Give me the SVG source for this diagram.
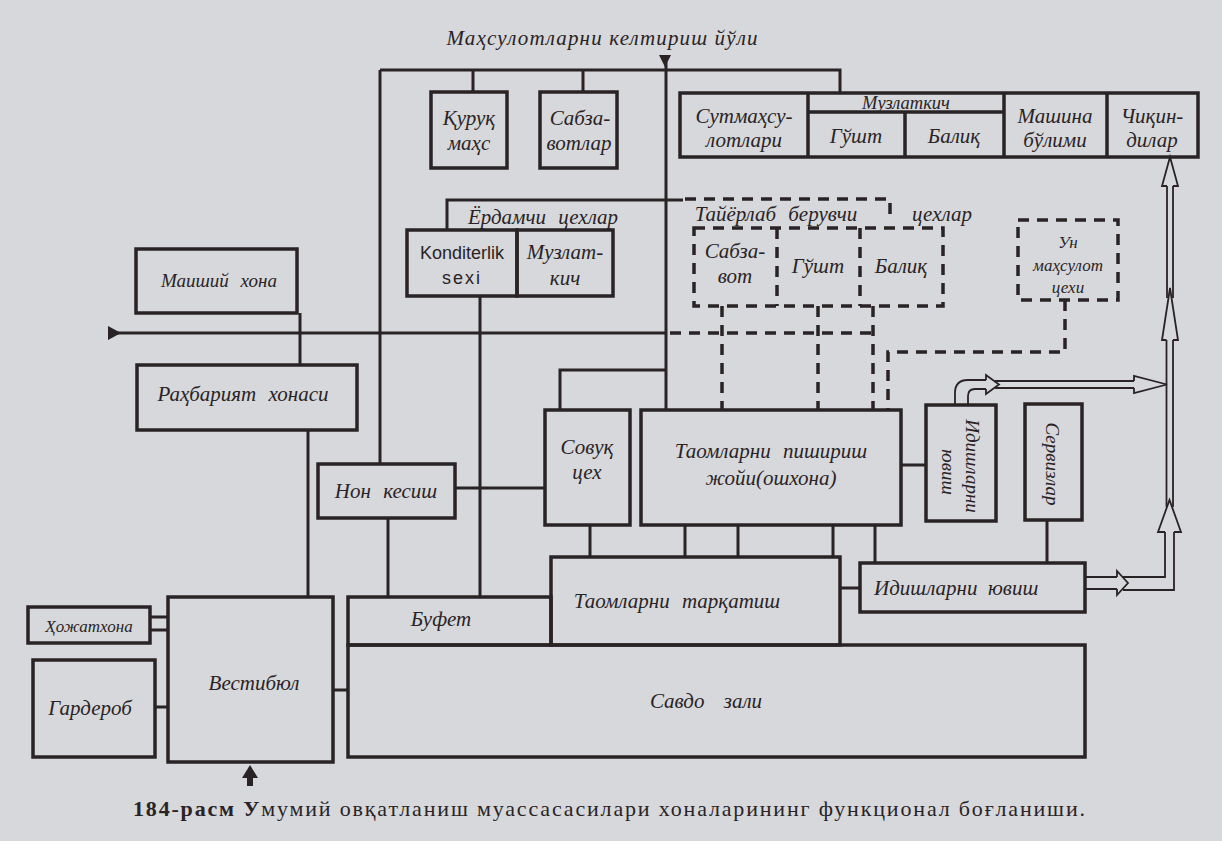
<svg xmlns="http://www.w3.org/2000/svg" width="1222" height="841" viewBox="0 0 1222 841">
<defs>
<style>
.box{fill:none;stroke:#2a2325;stroke-width:3.5}
.ln{fill:none;stroke:#2a2325;stroke-width:3}
.dash{fill:none;stroke:#2a2325;stroke-width:3.5;stroke-dasharray:11 8}
.pipe{fill:none;stroke:#2a2325;stroke-width:1.8}
.t{font-family:"Liberation Serif","DejaVu Serif",serif;font-style:italic;font-size:21px;fill:#2a2325;text-anchor:middle}
.sm{font-size:17px}
.rt{font-size:19px}
.ws{word-spacing:7px}
.sans{font-family:"Liberation Sans","DejaVu Sans",sans-serif;font-style:normal;font-size:18px}
.cap{font-family:"Liberation Serif","DejaVu Serif",serif;font-size:22px;fill:#2a2325}
.fill{fill:#2a2325}
</style>
</defs>
<rect x="0" y="0" width="1222" height="841" fill="#d6d8db"/>

<text class="t" x="602" y="45" textLength="311" lengthAdjust="spacing">Маҳсулотларни келтириш йўли</text>

<g id="connectors">
  <polygon class="fill" points="659,55 671,55 665,67"/>
  <path class="ln" d="M380,70 H840 V93"/>
  <path class="ln" d="M380,70 V464"/>
  <path class="ln" d="M473,70 V92 M583,70 V92"/>
  <path class="ln" d="M666,62 V410"/>
  <path class="ln" d="M666,370 H560 V410"/>
  <path class="ln" d="M447,230 V200 H683"/>
  <polygon class="fill" points="108,326 108,340 121,333"/>
  <path class="ln" d="M110,333 H666"/>
  <path class="ln" d="M300,313 V365"/>
  <path class="ln" d="M308,430 V597"/>
  <path class="ln" d="M480,296 V597"/>
  <path class="ln" d="M455,488 H545"/>
  <path class="ln" d="M388,518 V597"/>
  <path class="ln" d="M590,525 V557"/>
  <path class="ln" d="M685,525 V557 M738,525 V557 M833,525 V557"/>
  <path class="ln" d="M875,525 V563"/>
  <path class="ln" d="M901,465 H926"/>
  <path class="ln" d="M1047,520 V563"/>
  <path class="ln" d="M840,588 H860"/>
  <path class="ln" d="M333,690 H348"/>
  <path class="ln" d="M150,617 H168 M150,630 H168"/>
  <path class="ln" d="M155,707 H168"/>
  <polygon class="fill" points="250,765 242,778 258,778"/>
  <rect class="fill" x="247" y="777" width="6" height="9"/>
  <path class="dash" d="M685,199 H890 V222"/>
  <path class="dash" d="M722,306 V410 M818,306 V410 M873,306 V410"/>
  <path class="dash" d="M670,333 H873"/>
  <path class="dash" d="M1065,300 V352 H888 V410"/>
  <path class="pipe" d="M955,405 V393 Q955,380 968,380 H986"/>
  <path class="pipe" d="M968,405 V396 Q968,389 975,389 H986"/>
  <polyline class="pipe" points="986,380 986,375 999,384.5 986,394 986,389"/>
  <path class="pipe" d="M995,381 H1134 M995,388 H1134"/>
  <polyline class="pipe" points="1134,381 1134,376 1167,384.5 1134,393 1134,388"/>
  <path class="pipe" d="M1085,577 H1117 M1085,589 H1117"/>
  <polyline class="pipe" points="1117,577 1117,571 1128,583 1117,595 1117,589"/>
  <path class="pipe" d="M1123,577 H1165 V532 M1123,590 H1174 V532"/>
  <polyline class="pipe" points="1165,532 1158,532 1169.5,500 1181,532 1174,532"/>
  <path class="pipe" d="M1166.5,507 V340 M1173,507 V340"/>
  <polyline class="pipe" points="1166.5,340 1162,340 1170,288 1178,340 1173,340"/>
  <path class="pipe" d="M1167,298 V186 M1173,298 V186"/>
  <polyline class="pipe" points="1167,186 1162,186 1170,157 1178,186 1173,186"/>
</g>

<g id="quruq">
  <rect class="box" x="431" y="92" width="76" height="76"/>
  <text class="t" x="469" y="125">Қуруқ</text>
  <text class="t" x="469" y="150">маҳс</text>
</g>
<g id="sabzavotlar">
  <rect class="box" x="540" y="92" width="77" height="76"/>
  <text class="t" x="580" y="125">Сабза-</text>
  <text class="t" x="579" y="150">вотлар</text>
</g>
<g id="omborlar">
  <rect class="box" x="680" y="93" width="518" height="64"/>
  <path class="box" d="M808,93 V157 M1004,93 V157 M1107,93 V157 M808,112 H1004 M905,112 V157"/>
  <text class="t" x="744" y="123">Сутмаҳсу-</text>
  <text class="t" x="744" y="147">лотлари</text>
  <text class="t" style="font-size:18.5px" x="906" y="108.5">Музлаткич</text>
  <text class="t" x="856" y="143">Гўшт</text>
  <text class="t" x="954" y="143">Балиқ</text>
  <text class="t" x="1055" y="123">Машина</text>
  <text class="t" x="1055" y="147">бўлими</text>
  <text class="t" x="1152" y="123">Чиқин-</text>
  <text class="t" x="1152" y="147">дилар</text>
</g>
<g id="maishiy">
  <rect class="box" x="136" y="249" width="161" height="64"/>
  <text class="t ws" style="font-size:19px" x="219" y="287">Маиший хона</text>
</g>
<g id="rahbariyat">
  <rect class="box" x="137" y="365" width="220" height="65"/>
  <text class="t ws" x="243" y="401">Раҳбарият хонаси</text>
</g>
<g id="yordamchi">
  <text class="t ws" x="543" y="224">Ёрдамчи цехлар</text>
  <rect class="box" x="407" y="230" width="110" height="66"/>
  <rect class="box" x="517" y="230" width="96" height="66"/>
  <text class="t sans" x="462" y="259">Konditerlik</text>
  <text class="t sans" x="462" y="284" letter-spacing="2">sexi</text>
  <text class="t" x="565" y="259">Музлат-</text>
  <text class="t" x="565" y="285">кич</text>
</g>
<g id="tayyorlab">
  <text class="t ws" x="776" y="221">Тайёрлаб берувчи</text>
  <text class="t" x="942" y="221">цехлар</text>
  <rect class="dash" x="694" y="228" width="249" height="78"/>
  <path class="dash" d="M777,228 V306 M860,228 V306"/>
  <text class="t" x="735" y="258">Сабза-</text>
  <text class="t" x="735" y="283">вот</text>
  <text class="t" x="818" y="273">Гўшт</text>
  <text class="t" x="901" y="273">Балиқ</text>
</g>
<g id="un">
  <rect class="dash" x="1018" y="220" width="100" height="80"/>
  <text class="t sm" x="1068" y="248">Ун</text>
  <text class="t sm" x="1068" y="271">маҳсулот</text>
  <text class="t sm" x="1068" y="293">цехи</text>
</g>
<g id="oshxona">
  <rect class="box" x="641" y="410" width="260" height="115"/>
  <text class="t ws" x="771" y="458">Таомларни пишириш</text>
  <text class="t" x="771" y="485">жойи(ошхона)</text>
</g>
<g id="sovuq">
  <rect class="box" x="545" y="410" width="85" height="115"/>
  <text class="t" x="587" y="454">Совуқ</text>
  <text class="t" x="587" y="479">цех</text>
</g>
<g id="non">
  <rect class="box" x="318" y="464" width="137" height="54"/>
  <text class="t ws" x="386" y="498">Нон кесиш</text>
</g>
<g id="idish1">
  <rect class="box" x="926" y="405" width="70" height="116"/>
  <text class="t rt" transform="translate(966,466) rotate(90)">Идишларни</text>
  <text class="t rt" transform="translate(942,472) rotate(90)">ювиш</text>
</g>
<g id="servis">
  <rect class="box" x="1025" y="404" width="57" height="116"/>
  <text class="t rt" transform="translate(1046,464) rotate(90)">Сервизлар</text>
</g>
<g id="tarqatish">
  <rect class="box" x="551" y="557" width="289" height="88"/>
  <text class="t ws" x="677" y="608">Таомларни тарқатиш</text>
</g>
<g id="bufet">
  <rect class="box" x="348" y="597" width="203" height="48"/>
  <text class="t" x="441" y="626">Буфет</text>
</g>
<g id="idish2">
  <rect class="box" x="860" y="563" width="225" height="49"/>
  <text class="t" style="text-anchor:start" y="595"><tspan x="874">Идишларни</tspan><tspan x="988">ювиш</tspan></text>
</g>
<g id="savdo">
  <rect class="box" x="348" y="645" width="737" height="112"/>
  <text class="t" style="word-spacing:14px" x="706" y="708">Савдо зали</text>
</g>
<g id="vestibyul">
  <rect class="box" x="168" y="597" width="165" height="165"/>
  <text class="t" x="254" y="690">Вестибюл</text>
</g>
<g id="hojatxona">
  <rect class="box" x="28" y="607" width="122" height="36"/>
  <text class="t sm" x="89" y="632">Ҳожатхона</text>
</g>
<g id="garderob">
  <rect class="box" x="33" y="660" width="122" height="97"/>
  <text class="t" x="90" y="715">Гардероб</text>
</g>

<text class="cap" x="133" y="816" textLength="952" lengthAdjust="spacing"><tspan font-weight="bold">184-расм У</tspan>мумий овқатланиш муассасасилари хоналарининг функционал боғланиши.</text>
</svg>
